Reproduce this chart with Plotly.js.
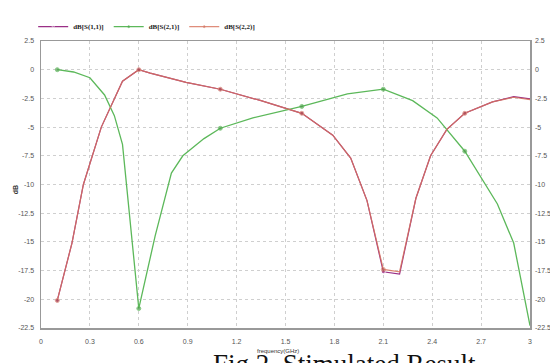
<!DOCTYPE html>
<html>
<head>
<meta charset="utf-8">
<script src="https://cdn.plot.ly/plotly-3.0.1.min.js"></script>
<style>html,body{margin:0;padding:0;background:#fff;}#chart{width:550px;height:363px;}</style>
</head>
<body>
<div id="chart"></div>
<script>
// Frequency (GHz) and dB values
const freqS21 = [0.1, 0.2, 0.3, 0.39, 0.45, 0.5, 0.6, 0.7, 0.8, 0.87, 1.0, 1.1, 1.3, 1.6, 1.88, 2.1, 2.28, 2.43, 2.6, 2.8, 2.9, 3.0];
const s21 = [0, -0.2, -0.7, -2.2, -4.0, -6.5, -20.8, -14.5, -9.0, -7.5, -6.0, -5.1, -4.2, -3.2, -2.1, -1.7, -2.7, -4.2, -7.1, -11.7, -15.1, -22.3];

const freqS22 = [0.1, 0.19, 0.26, 0.37, 0.5, 0.6, 0.67, 0.89, 1.1, 1.35, 1.6, 1.79, 1.9, 2.0, 2.1, 2.2, 2.3, 2.39, 2.49, 2.6, 2.77, 2.9, 3.0];
const s22 = [-20.1, -15.1, -10.0, -5.0, -1.0, 0, -0.3, -1.1, -1.7, -2.7, -3.8, -5.7, -7.7, -11.4, -17.4, -17.6, -11.2, -7.5, -5.2, -3.8, -2.8, -2.4, -2.6];
const s11 = [-20.1, -15.1, -10.0, -5.0, -1.0, 0, -0.3, -1.1, -1.7, -2.7, -3.8, -5.7, -7.7, -11.4, -17.6, -17.8, -11.2, -7.5, -5.2, -3.8, -2.8, -2.35, -2.55];

const markerFreqs = [0.1, 0.6, 1.1, 1.6, 2.1, 2.6];
const seriesNames = ["dB[S(1,1)]", "dB[S(2,1)]", "dB[S(2,2)]"];
const xTicks = [0, 0.3, 0.6, 0.9, 1.2, 1.5, 1.8, 2.1, 2.4, 2.7, 3];
const yTicks = [2.5, 0, -2.5, -5, -7.5, -10, -12.5, -15, -17.5, -20, -22.5];

const msize = fr => fr.map(f => markerFreqs.some(m => Math.abs(m - f) < 1e-6) ? 4 : 0);

const data = [
  {x: freqS22, y: s11, name: '<b>' + seriesNames[0] + '</b>', mode: 'lines+markers', line: {color: '#9a2f86', width: 1.2}, marker: {size: msize(freqS22), color: '#9a2f86'}},
  {x: freqS21, y: s21, name: '<b>' + seriesNames[1] + '</b>', mode: 'lines+markers', line: {color: '#5cb85a', width: 1.3}, marker: {size: msize(freqS21), color: '#4a9a48'}},
  {x: freqS22, y: s22, name: '<b>' + seriesNames[2] + '</b>', mode: 'lines+markers', opacity: 0.85, line: {color: '#d8735c', width: 1.2}, marker: {size: msize(freqS22), color: '#b0504a'}},
  {x: freqS22, y: s22, yaxis: 'y2', showlegend: false, hoverinfo: 'skip', mode: 'lines', line: {color: 'rgba(0,0,0,0)', width: 0}}
];

const tickFont = {family: 'Liberation Sans, Arial', size: 7, color: '#555'};
const layout = {
  width: 550, height: 363,
  margin: {l: 41, r: 20, t: 30, b: 35},
  paper_bgcolor: '#fff', plot_bgcolor: '#fff',
  showlegend: true,
  legend: {orientation: 'h', x: -0.016, xanchor: 'left', y: 1.05, yanchor: 'middle', font: {family: 'Liberation Serif', size: 7, color: '#222'}, itemwidth: 30, bgcolor: 'rgba(0,0,0,0)'},
  xaxis: {
    range: [0, 3], tickvals: xTicks, ticktext: xTicks.map(String),
    showgrid: true, gridcolor: '#cfcfcf', griddash: 'dot', gridwidth: 1,
    zeroline: false, showline: true, linecolor: '#999', linewidth: 1.5, mirror: true,
    ticks: '', tickfont: tickFont, ticklabelstandoff: 6,
    title: {text: ''}
  },
  yaxis: {
    range: [-22.5, 2.5], tickvals: yTicks, ticktext: yTicks.map(String),
    showgrid: true, gridcolor: '#cfcfcf', griddash: 'dot', gridwidth: 1,
    zeroline: false, showline: true, linecolor: '#999', linewidth: 1.5, mirror: true,
    ticks: '', tickfont: tickFont, ticklabelstandoff: 4,
    title: {text: ''}
  },
  yaxis2: {
    overlaying: 'y', side: 'right', range: [-22.5, 2.5], tickvals: yTicks, ticktext: yTicks.map(String),
    showgrid: false, zeroline: false, showline: false, ticks: '', tickfont: tickFont, ticklabelstandoff: 4
  },
  annotations: [
    {text: '<b>dB</b>', xref: 'paper', yref: 'paper', x: -0.053, y: 0.48, xanchor: 'center', yanchor: 'middle', textangle: -90, showarrow: false, font: {family: 'Liberation Sans', size: 7, color: '#333'}},
    {text: 'frequency(GHz)', xref: 'paper', yref: 'paper', x: 0.485, y: -0.08, xanchor: 'center', yanchor: 'middle', showarrow: false, font: {family: 'Liberation Sans', size: 6, color: '#333'}},
    {text: 'Fig 2. Stimulated Result', xref: 'paper', yref: 'paper', x: 0.62, y: -0.067, xanchor: 'center', yanchor: 'top', showarrow: false, font: {family: 'Liberation Serif, Times New Roman', size: 27, color: '#111'}}
  ]
};

Plotly.newPlot('chart', data, layout, {displayModeBar: false, staticPlot: true});
</script>
</body>
</html>
